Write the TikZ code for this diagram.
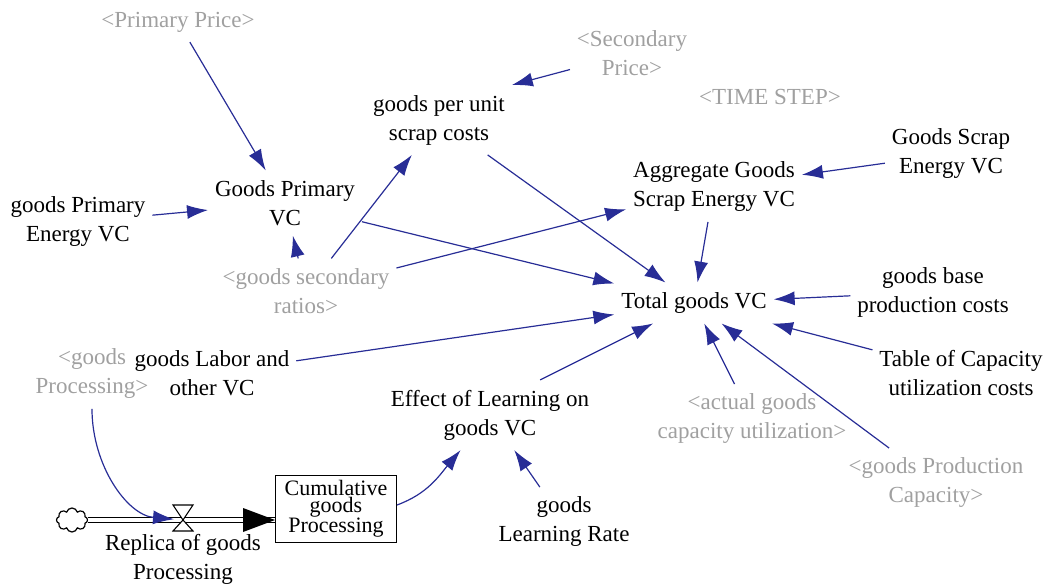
\documentclass[tikz,border=0pt]{standalone}
\usepackage{fontspec}
\setmainfont{Liberation Serif}
\usetikzlibrary{positioning,arrows.meta,shapes.symbols}
\definecolor{lnkcol}{RGB}{40,45,150}
\definecolor{shdcol}{RGB}{160,160,160}

\begin{document}
\begin{tikzpicture}[x=1pt,y=-1pt,
   font=\fontsize{23}{29}\selectfont,
   vr/.style={align=center,inner xsep=5pt,inner ysep=8pt,outer sep=2pt},
   sh/.style={vr,text=shdcol},
   stk/.style={draw,line width=1.3pt,align=center,inner xsep=9pt,inner ysep=5pt,
               font=\fontsize{22}{15}\selectfont},
   lk/.style={draw=lnkcol,line width=1.2pt,-{Latex[length=21pt,width=14pt]}},
   pipe/.style={draw,double distance=4pt,line width=1.4pt},
]
\useasboundingbox (0,0) rectangle (1050,588);

% ----- variables
\node[sh] (pprice) at (178,22)  {<Primary Price>};
\node[sh] (sprice) at (632,53)  {<Secondary\\Price>};
\node[sh] (tstep)  at (770,97)  {<TIME STEP>};
\node[vr] (gpus)   at (439,120) {goods per unit\\scrap costs};
\node[vr] (gsevc)  at (951,154) {Goods Scrap\\Energy VC};
\node[vr] (agsevc) at (714,187) {Aggregate Goods\\Scrap Energy VC};
\node[vr] (gpvc)   at (285,203) {Goods Primary\\VC};
\node[vr] (gpevc)  at (78,222)  {goods Primary\\Energy VC};
\node[sh] (gsr)    at (306,291) {<goods secondary\\ratios>};
\node[vr] (tgvc)   at (694,303) {Total goods VC};
\node[vr] (gbpc)   at (933,292) {goods base\\production costs};
\node[vr] (tcuc)   at (961,373) {Table of Capacity\\utilization costs};
\node[sh] (gproc)  at (92,374)  {<goods\\Processing>};
\node[vr] (glvc)   at (212,373) {goods Labor and\\other VC};
\node[vr] (elvc)   at (490,415) {Effect of Learning on\\goods VC};
\node[sh] (agcu)   at (752,419) {<actual goods\\capacity utilization>};
\node[sh] (gpc)    at (936,483) {<goods Production\\Capacity>};
\node[vr] (glr)    at (564,522) {goods\\Learning Rate};

% ----- stock and flow
\node[stk] (cgp) at (336,509) {Cumulative\\goods\\Processing};
\node[cloud,draw,line width=1.2pt,cloud puffs=8,cloud ignores aspect,
      minimum width=31pt,minimum height=24pt,inner sep=0pt] (src) at (72,520) {};
\coordinate (vlv) at (183,520);
\coordinate (pend) at ([yshift=-11pt]cgp.west);
\draw[pipe] (src.east) -- (pend);
\path[fill=black] ([xshift=-32pt,yshift=12pt]pend) -- (pend) -- ([xshift=-32pt,yshift=-12pt]pend) -- cycle;
\draw[line width=1.1pt,fill=white] (173,505) -- (193,505) -- (vlv) -- (173,531) -- (193,531) -- (vlv) -- cycle;
\node[vr] (rgp) at (183,559) {Replica of goods\\Processing};

% ----- links
\draw[lk] (pprice) -- (gpvc);
\draw[lk] (gpevc) -- (gpvc);
\draw[lk] (gsr) -- (gpvc);
\draw[lk] (gsr) -- (gpus);
\draw[lk] (sprice) -- (gpus.north east);
\draw[lk] (gpus) -- (tgvc);
\draw[lk] (gpvc) -- (tgvc);
\draw[lk] (gsr) -- (agsevc);
\draw[lk] (gsevc) -- (agsevc);
\draw[lk] (agsevc) -- (tgvc);
\draw[lk] (gbpc) -- (tgvc);
\draw[lk] (tcuc) -- (tgvc);
\draw[lk] (gpc) -- (tgvc);
\draw[lk] (agcu) -- (tgvc);
\draw[lk] (elvc.35) -- (tgvc);
\draw[lk] (glvc) -- (tgvc);
\draw[lk] (glr) -- (elvc);
\draw[lk] ([yshift=4pt]cgp.east) to[out=20,in=-130] (elvc);
\draw[lk,shorten >=9pt] (gproc.south) to[out=-90,in=175] (vlv);
\end{tikzpicture}
\end{document}
